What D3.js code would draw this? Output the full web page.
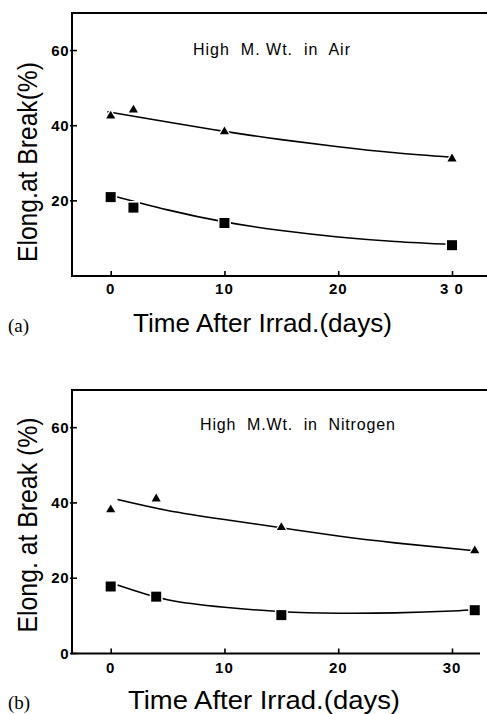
<!DOCTYPE html>
<html>
<head>
<meta charset="utf-8">
<script src="https://cdn.jsdelivr.net/npm/d3@7"></script>
<style>
  body { margin: 0; background: #fff; }
  svg { display: block; }
  text { font-family: "Liberation Sans", Arial, sans-serif; fill: #000; }
  text.tag { font-family: "Liberation Serif", "Times New Roman", serif; }
</style>
</head>
<body>
<svg width="487" height="714"></svg>
<script>
// Panel (a): High M. Wt. in Air
const airDays      = [0, 2, 10, 30];
const airTriangle  = [42.6, 44.2, 38.4, 31.2];
const airSquare    = [21.0, 18.2, 14.1, 8.2];
// hand-drawn fit curves
const airTriFitX   = [-0.3, 5, 10, 15, 20, 25, 30];
const airTriFitY   = [43.7, 41.0, 38.5, 36.3, 34.4, 32.8, 31.6];
const airSqFitX    = [0, 5, 10, 15, 20, 25, 30];
const airSqFitY    = [21.5, 17.6, 14.4, 12.1, 10.4, 9.2, 8.4];

// Panel (b): High M.Wt. in Nitrogen
const n2Days       = [0, 4, 15, 32];
const n2Triangle   = [38.2, 41.1, 33.5, 27.3];
const n2Square     = [17.8, 15.1, 10.2, 11.5];
const n2TriFitX    = [0.6, 5, 10, 15, 20, 25, 32];
const n2TriFitY    = [40.9, 38.0, 35.6, 33.4, 31.2, 29.4, 27.3];
const n2SqFitX     = [0.6, 5, 10, 15, 20, 25, 30, 32];
const n2SqFitY     = [18.2, 14.3, 12.3, 11.1, 10.7, 10.8, 11.3, 11.7];

const xTicks       = [0, 10, 20, 30];
const xTickLabelsA = ["0", "10", "20", "3 0"];
const xTickLabelsB = ["0", "10", "20", "30"];
const yTicksA      = [20, 40, 60];
const yTicksB      = [0, 20, 40, 60];

const svg = d3.select("svg");
const width = +svg.attr("width");

function drawPanel(p) {
    const x = d3.scaleLinear().domain([-3.4, 30]).range([72, 452]);
    const y = d3.scaleLinear().domain([0, 70]).range([p.bottom, p.top]);
    const g = svg.append("g");

    // frame (right side runs off the page)
    g.append("path")
        .attr("d", `M${width + 5},${y(70)} H${x(-3.4)} V${y(0)} H${p.axisEnd}`)
        .attr("fill", "none")
        .attr("stroke", "#000")
        .attr("stroke-width", 2);

    // x ticks point inward
    const xAxis = d3.axisTop(x)
        .tickValues(xTicks)
        .tickSize(5)
        .tickFormat("");
    g.append("g")
        .attr("transform", `translate(0,${y(0)})`)
        .call(xAxis)
        .call(a => a.select(".domain").remove())
        .selectAll("line").attr("stroke-width", 1.6);

    g.selectAll(".xlab")
        .data(xTicks)
        .join("text")
        .attr("x", d => x(d))
        .attr("y", y(0) + p.xLabDy)
        .attr("text-anchor", "middle")
        .attr("font-size", 15)
        .attr("font-weight", "bold")
        .attr("letter-spacing", 1)
        .text((d, i) => p.xLabels[i]);

    // y ticks cross the axis
    const yAxis = d3.axisLeft(y)
        .tickValues(p.yTicks)
        .tickSize(0)
        .tickFormat("");
    g.append("g")
        .attr("transform", `translate(${x(-3.4)},0)`)
        .call(yAxis)
        .call(a => a.select(".domain").remove());
    g.selectAll(".ytick")
        .data(p.yTicks)
        .join("line")
        .attr("x1", x(-3.4) - 2)
        .attr("x2", x(-3.4) + 5)
        .attr("y1", d => y(d))
        .attr("y2", d => y(d))
        .attr("stroke", "#000")
        .attr("stroke-width", 1.6);
    g.selectAll(".ylab")
        .data(p.yTicks)
        .join("text")
        .attr("x", x(-3.4) - 3)
        .attr("y", d => y(d) + 5)
        .attr("text-anchor", "end")
        .attr("font-size", 15)
        .attr("font-weight", "bold")
        .attr("letter-spacing", 0.5)
        .text(d => d);

    // fitted curves
    const line = d3.line()
        .x(d => x(d[0]))
        .y(d => y(d[1]))
        .curve(d3.curveNatural);
    [[p.triFitX, p.triFitY], [p.sqFitX, p.sqFitY]].forEach(([fx, fy]) => {
        g.append("path")
            .datum(d3.zip(fx, fy))
            .attr("fill", "none")
            .attr("stroke", "#000")
            .attr("stroke-width", 1.6)
            .attr("d", line);
    });

    // markers with a white halo so the line breaks around them
    const tri = d3.symbol().type(d3.symbolTriangle).size(36);
    g.selectAll(".tri")
        .data(d3.zip(p.days, p.tri))
        .join("path")
        .attr("transform", d => `translate(${x(d[0])},${y(d[1])})`)
        .attr("d", tri)
        .attr("fill", "#000")
        .attr("stroke", "#fff")
        .attr("stroke-width", 2.5)
        .attr("paint-order", "stroke");
    const sq = d3.symbol().type(d3.symbolSquare).size(100);
    g.selectAll(".sq")
        .data(d3.zip(p.days, p.sq))
        .join("path")
        .attr("transform", d => `translate(${x(d[0])},${y(d[1])})`)
        .attr("d", sq)
        .attr("fill", "#000")
        .attr("stroke", "#fff")
        .attr("stroke-width", 3)
        .attr("paint-order", "stroke");

    // annotation
    g.append("text")
        .attr("x", p.noteX)
        .attr("y", p.noteY)
        .attr("font-size", 16)
        .attr("textLength", p.noteLen)
        .attr("lengthAdjust", "spacing")
        .attr("xml:space", "preserve")
        .text(p.note);

    // axis titles
    g.append("text")
        .attr("x", p.xTitleX)
        .attr("y", p.xTitleY)
        .attr("font-size", 26)
        .attr("textLength", p.xTitleLen)
        .attr("lengthAdjust", "spacingAndGlyphs")
        .text("Time After Irrad.(days)");

    g.append("text")
        .attr("transform", `translate(37,${p.yTitleY}) rotate(-90)`)
        .attr("text-anchor", "middle")
        .attr("font-size", 28)
        .attr("textLength", p.yTitleLen)
        .attr("lengthAdjust", "spacingAndGlyphs")
        .text(p.yTitle);

    g.append("text")
        .attr("class", "tag")
        .attr("x", 8)
        .attr("y", p.xTitleY)
        .attr("font-size", 19)
        .text(p.tag);
}

drawPanel({
    top: 13, bottom: 276, axisEnd: width + 5, xLabDy: 18,
    xLabels: xTickLabelsA, yTicks: yTicksA,
    days: airDays, tri: airTriangle, sq: airSquare,
    triFitX: airTriFitX, triFitY: airTriFitY, sqFitX: airSqFitX, sqFitY: airSqFitY,
    note: "High  M. Wt.  in  Air", noteX: 193, noteY: 55, noteLen: 157,
    xTitleX: 133, xTitleY: 332, xTitleLen: 259,
    yTitle: "Elong.at Break(%)", yTitleY: 162, yTitleLen: 200,
    tag: "(a)"
});

drawPanel({
    top: 390, bottom: 653.5, axisEnd: 480, xLabDy: 19,
    xLabels: xTickLabelsB, yTicks: yTicksB,
    days: n2Days, tri: n2Triangle, sq: n2Square,
    triFitX: n2TriFitX, triFitY: n2TriFitY, sqFitX: n2SqFitX, sqFitY: n2SqFitY,
    note: "High  M.Wt.  in  Nitrogen", noteX: 200, noteY: 430, noteLen: 195,
    xTitleX: 128, xTitleY: 709, xTitleLen: 272,
    yTitle: "Elong. at Break (%)", yTitleY: 525, yTitleLen: 215,
    tag: "(b)"
});
</script>
</body>
</html>
